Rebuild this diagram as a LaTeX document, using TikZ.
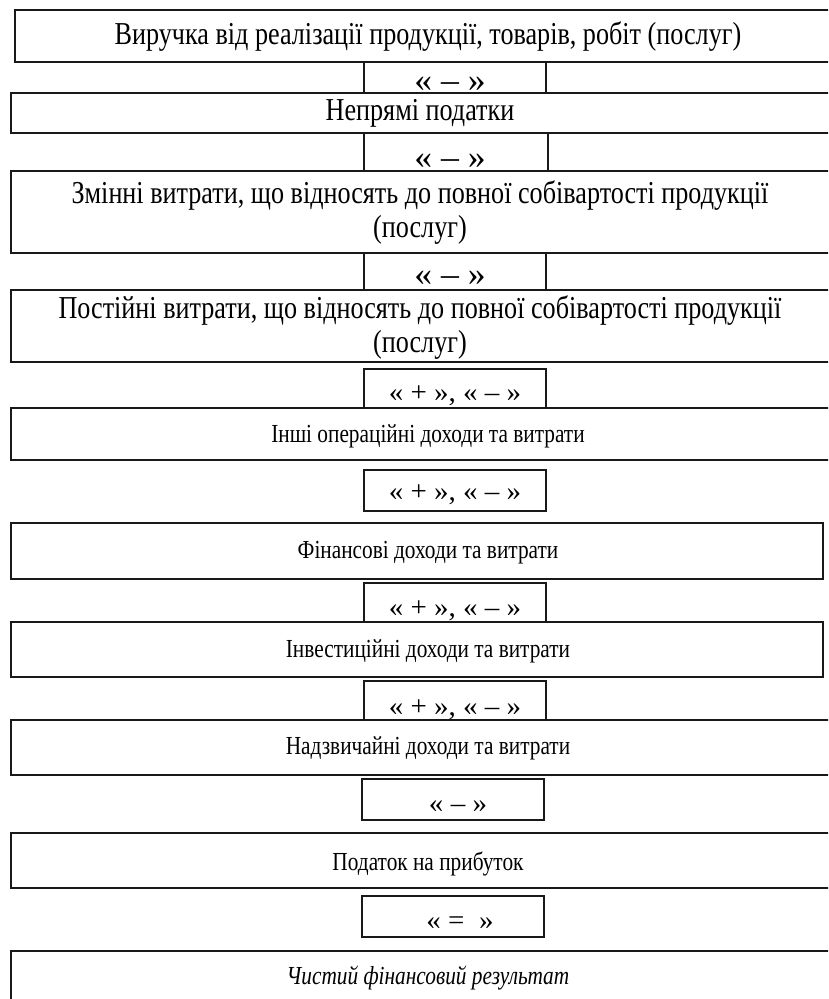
\documentclass[tikz,border=0pt]{standalone}
\usepackage{fontspec}
\setmainfont[FakeStretch=0.82]{Liberation Serif}
\newfontfamily\signfont[FakeStretch=1.04]{Liberation Serif}
\begin{document}
\begin{tikzpicture}[x=1pt,y=-1pt]
\tikzset{
  frame/.style={draw=black!90, line width=1.4pt, rectangle, anchor=north west, inner sep=0pt, outer sep=0pt},
  txttop/.style={font=\fontsize{31.9}{34}\selectfont, align=center, inner sep=0pt},
  txt/.style={font=\fontsize{26}{30}\selectfont, align=center, inner sep=0pt},
  signtop/.style={font=\signfont\fontsize{34.3}{36}\selectfont, inner sep=0pt},
  sign/.style={font=\signfont\fontsize{27.9}{30}\selectfont, inner sep=0pt}
}
\useasboundingbox (0,0) rectangle (828,999);
\clip (0,0) rectangle (828,999);
% big boxes
\node[frame, minimum width=835pt, minimum height=52pt] (b1) at (15,10) {};
\node[frame, minimum width=839pt, minimum height=40pt] (b2) at (11,93) {};
\node[frame, minimum width=839pt, minimum height=82pt] (b3) at (11,171) {};
\node[frame, minimum width=839pt, minimum height=72pt] (b4) at (11,290) {};
\node[frame, minimum width=839pt, minimum height=52pt] (b5) at (11,408) {};
\node[frame, minimum width=812pt, minimum height=56pt] (b6) at (11,523) {};
\node[frame, minimum width=812pt, minimum height=55pt] (b7) at (11,622) {};
\node[frame, minimum width=839pt, minimum height=55pt] (b8) at (11,720) {};
\node[frame, minimum width=839pt, minimum height=55pt] (b9) at (11,833) {};
\node[frame, minimum width=839pt, minimum height=80pt] (b10) at (11,951) {};
% small boxes
\node[frame, minimum width=182pt, minimum height=31pt] (s1) at (364,62) {};
\node[frame, minimum width=184pt, minimum height=38pt] (s2) at (364,133) {};
\node[frame, minimum width=182pt, minimum height=37pt] (s3) at (364,253) {};
\node[frame, minimum width=182pt, minimum height=39pt] (s4) at (364,369) {};
\node[frame, minimum width=182pt, minimum height=41pt] (s5) at (364,470) {};
\node[frame, minimum width=182pt, minimum height=39pt] (s6) at (364,583) {};
\node[frame, minimum width=182pt, minimum height=39pt] (s7) at (364,681) {};
\node[frame, minimum width=182pt, minimum height=41pt] (s8) at (362,779) {};
\node[frame, minimum width=182pt, minimum height=41pt] (s9) at (362,896) {};
% texts
\node[txttop] (t1) at (428,37) {Виручка від реалізації продукції, товарів, робіт (послуг)};
\node[txttop] (t2) at (420,113) {Непрямі податки};
\node[txttop] (t3) at (420,213) {Змінні витрати, що відносять до повної собівартості продукції\\(послуг)};
\node[txttop] (t4) at (420,328) {Постійні витрати, що відносять до повної собівартості продукції\\(послуг)};
\node[txt] (t5) at (428,436) {Інші операційні доходи та витрати};
\node[txt] (t6) at (428,553) {Фінансові доходи та витрати};
\node[txt] (t7) at (428,651) {Інвестиційні доходи та витрати};
\node[txt] (t8) at (428,748) {Надзвичайні доходи та витрати};
\node[txt] (t9) at (428,864) {Податок на прибуток};
\node[txt] (t10) at (428,978) {\itshape Чистий фінансовий результат};
\node[signtop] (l1) at (450,84) {« – »};
\node[signtop] (l2) at (450,161) {« – »};
\node[signtop] (l3) at (450,278) {« – »};
\node[sign] (l4) at (455,396) {« + », « – »};
\node[sign] (l5) at (455,495) {« + », « – »};
\node[sign] (l6) at (455,611) {« + », « – »};
\node[sign] (l7) at (455,710) {« + », « – »};
\node[sign] (l8) at (458,807) {« – »};
\node[sign] (l9) at (460,923) {«\ =\ \ »};
\end{tikzpicture}
\end{document}
